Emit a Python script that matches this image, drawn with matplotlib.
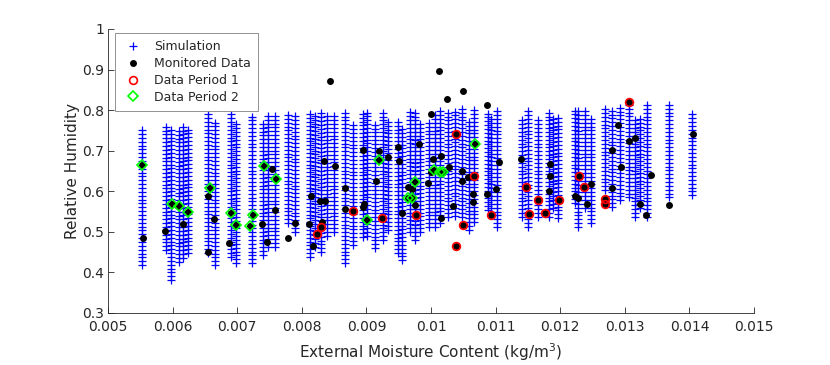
import numpy as np
import matplotlib
matplotlib.use("Agg")
import matplotlib.pyplot as plt

# ---------------- data ----------------
# Simulation: columns of simulated RH at each external moisture content (x, min RH, max RH)
sim_x = [0.00553, 0.00590, 0.00598, 0.00610, 0.00616, 0.00624, 0.00655, 0.00666,
         0.00690, 0.00698, 0.00723, 0.00740, 0.00748, 0.00759, 0.00779, 0.00789,
         0.00813, 0.00820, 0.00830, 0.00839, 0.00850, 0.00867, 0.00879, 0.00895,
         0.00901, 0.00913, 0.00926, 0.00933, 0.00949, 0.00955, 0.00967, 0.00975,
         0.00983, 0.00997, 0.01006, 0.01014, 0.01026, 0.01037, 0.01048, 0.01059,
         0.01067, 0.01088, 0.01093, 0.01102, 0.01141, 0.01150, 0.01166, 0.01183,
         0.01189, 0.01197, 0.01223, 0.01228, 0.01238, 0.01248, 0.01269, 0.01280,
         0.01293, 0.01307, 0.01316, 0.01324, 0.01334, 0.01368, 0.01404]
sim_lo = [0.418, 0.455, 0.381, 0.426, 0.436, 0.448, 0.448, 0.418,
          0.438, 0.423, 0.423, 0.443, 0.463, 0.463, 0.522, 0.500,
          0.438, 0.463, 0.450, 0.490, 0.500, 0.423, 0.468, 0.487,
          0.490, 0.460, 0.480, 0.505, 0.448, 0.430, 0.500, 0.480,
          0.500, 0.512, 0.512, 0.522, 0.537, 0.540, 0.537, 0.505,
          0.524, 0.554, 0.560, 0.512, 0.537, 0.512, 0.537, 0.537,
          0.560, 0.534, 0.571, 0.512, 0.560, 0.522, 0.603, 0.561,
          0.578, 0.585, 0.537, 0.560, 0.537, 0.585, 0.590]
sim_hi = [0.756, 0.763, 0.756, 0.758, 0.761, 0.761, 0.790, 0.776,
          0.790, 0.768, 0.793, 0.768, 0.793, 0.788, 0.793, 0.793,
          0.795, 0.795, 0.795, 0.793, 0.793, 0.795, 0.771, 0.795,
          0.795, 0.771, 0.800, 0.771, 0.771, 0.758, 0.795, 0.800,
          0.771, 0.775, 0.793, 0.800, 0.800, 0.800, 0.805, 0.780,
          0.800, 0.800, 0.785, 0.800, 0.783, 0.800, 0.775, 0.800,
          0.783, 0.783, 0.805, 0.800, 0.805, 0.783, 0.808, 0.805,
          0.813, 0.813, 0.783, 0.783, 0.813, 0.813, 0.793]

# Monitored data (black dots) not belonging to a highlighted period
mon_x = [0.005546, 0.005882, 0.006166, 0.006543, 0.006646, 0.006553, 0.006878, 0.007379,
         0.007466, 0.007543, 0.007585, 0.007782, 0.007895, 0.008107, 0.008138, 0.008178,
         0.008277, 0.008308, 0.008348, 0.008359, 0.008514, 0.008664, 0.008669, 0.008437,
         0.008952, 0.008943, 0.008963, 0.009195, 0.009144, 0.009330, 0.009494, 0.009500,
         0.009819, 0.009649, 0.009701, 0.009752, 0.009556, 0.009995, 0.010026, 0.010150,
         0.010005, 0.009958, 0.010150, 0.010274, 0.010124, 0.010243, 0.010491, 0.010871,
         0.010475, 0.010475, 0.010577, 0.010655, 0.010655, 0.010345, 0.010871, 0.011006,
         0.011057, 0.011393, 0.011842, 0.011842, 0.011827, 0.012229, 0.012271, 0.012410,
         0.012472, 0.012806, 0.012802, 0.012937, 0.012895, 0.013060, 0.013158, 0.013235,
         0.013328, 0.013401, 0.013689, 0.014051]
mon_y = [0.486, 0.503, 0.519, 0.588, 0.532, 0.451, 0.472, 0.519,
         0.476, 0.656, 0.553, 0.485, 0.523, 0.520, 0.588, 0.465,
         0.577, 0.525, 0.675, 0.576, 0.662, 0.609, 0.556, 0.873,
         0.702, 0.562, 0.568, 0.700, 0.625, 0.685, 0.709, 0.674,
         0.716, 0.610, 0.605, 0.567, 0.546, 0.791, 0.680, 0.686,
         0.647, 0.620, 0.534, 0.661, 0.897, 0.828, 0.847, 0.813,
         0.649, 0.625, 0.635, 0.593, 0.574, 0.564, 0.593, 0.606,
         0.673, 0.680, 0.667, 0.638, 0.601, 0.588, 0.583, 0.568,
         0.617, 0.702, 0.609, 0.659, 0.764, 0.725, 0.732, 0.568,
         0.542, 0.641, 0.565, 0.742]

# Data Period 1 (red circles)
p1_x = [0.008240, 0.008302, 0.008788, 0.009246, 0.009768, 0.010382, 0.010670, 0.010491,
        0.010387, 0.010933, 0.011463, 0.011522, 0.011652, 0.011772, 0.011974, 0.012288,
        0.012376, 0.012690, 0.012690, 0.013070]
p1_y = [0.494, 0.511, 0.551, 0.535, 0.542, 0.742, 0.638, 0.518,
        0.465, 0.542, 0.610, 0.545, 0.578, 0.546, 0.579, 0.638,
        0.611, 0.580, 0.569, 0.821]

# Data Period 2 (green diamonds)
p2_x = [0.005531, 0.005986, 0.006099, 0.006238, 0.006579, 0.006904, 0.006977, 0.007203,
        0.007249, 0.007410, 0.007605, 0.009014, 0.009200, 0.009755, 0.009649, 0.009711,
        0.010046, 0.010139, 0.010181, 0.010681]
p2_y = [0.664, 0.569, 0.564, 0.549, 0.608, 0.547, 0.517, 0.514,
        0.542, 0.662, 0.631, 0.528, 0.677, 0.622, 0.584, 0.584,
        0.652, 0.648, 0.648, 0.717]

x_ticks = [0.005, 0.006, 0.007, 0.008, 0.009, 0.01, 0.011, 0.012, 0.013, 0.014, 0.015]
x_ticklabels = ["0.005", "0.006", "0.007", "0.008", "0.009", "0.01", "0.011",
                "0.012", "0.013", "0.014", "0.015"]
y_ticks = [0.3, 0.4, 0.5, 0.6, 0.7, 0.8, 0.9, 1.0]
y_ticklabels = ["0.3", "0.4", "0.5", "0.6", "0.7", "0.8", "0.9", "1"]

# ---------------- plot ----------------
plt.rcParams['font.family'] = ['DejaVu Sans']
fig = plt.figure(figsize=(8.3, 3.65), dpi=100)
ax = fig.add_axes([108 / 830, 52 / 365, 646 / 830, 284 / 365])

# simulation columns drawn as stacks of '+' spanning each column's range
sx, sy = [], []
for x, lo, hi in zip(sim_x, sim_lo, sim_hi):
    ys = np.arange(lo, hi + 1e-9, 0.0095)
    sx.extend([x] * len(ys))
    sy.extend(ys)
ax.plot(sx, sy, linestyle='none', marker='+', color=(0, 0, 1), markersize=5.5,
        markeredgewidth=0.9, label='Simulation')

all_x = mon_x + p1_x + p2_x
all_y = mon_y + p1_y + p2_y
ax.plot(all_x, all_y, linestyle='none', marker='o', color='black', markersize=5,
        markeredgewidth=0, label='Monitored Data')
ax.plot(p1_x, p1_y, linestyle='none', marker='o', markerfacecolor='none',
        markeredgecolor=(1, 0, 0), markersize=5.6, markeredgewidth=1.2,
        label='Data Period 1')
ax.plot(p2_x, p2_y, linestyle='none', marker='D', markerfacecolor='none',
        markeredgecolor=(0, 1, 0), markersize=4.8, markeredgewidth=1.2,
        label='Data Period 2')

ax.set_xlim(0.005, 0.015)
ax.set_ylim(0.3, 1.0)
ax.set_xticks(x_ticks)
ax.set_xticklabels(x_ticklabels)
ax.set_yticks(y_ticks)
ax.set_yticklabels(y_ticklabels)

axis_col = (0.15, 0.15, 0.15)
for s in ['top', 'right']:
    ax.spines[s].set_visible(False)
for s in ['left', 'bottom']:
    ax.spines[s].set_color(axis_col)
    ax.spines[s].set_linewidth(0.6)
ax.tick_params(direction='in', length=4, width=0.6, colors=axis_col,
               labelsize=10)
ax.tick_params(axis='x', pad=5)
ax.tick_params(axis='y', pad=3)

ax.set_xlabel('External Moisture Content (kg/m$^3$)', fontsize=11, color=axis_col,
              labelpad=5)
ax.set_ylabel('Relative Humidity', fontsize=11, color=axis_col, labelpad=1)

leg = ax.legend(loc='upper left', bbox_to_anchor=(0.011, 0.986), borderaxespad=0,
                fontsize=9, frameon=True, fancybox=False, framealpha=1,
                edgecolor=(0.5, 0.5, 0.5), labelspacing=0.3, handlelength=1.6,
                handletextpad=0.9, borderpad=0.6)
leg.get_frame().set_linewidth(0.6)
for t in leg.get_texts():
    t.set_color(axis_col)

fig.savefig('out.png', dpi=100)
